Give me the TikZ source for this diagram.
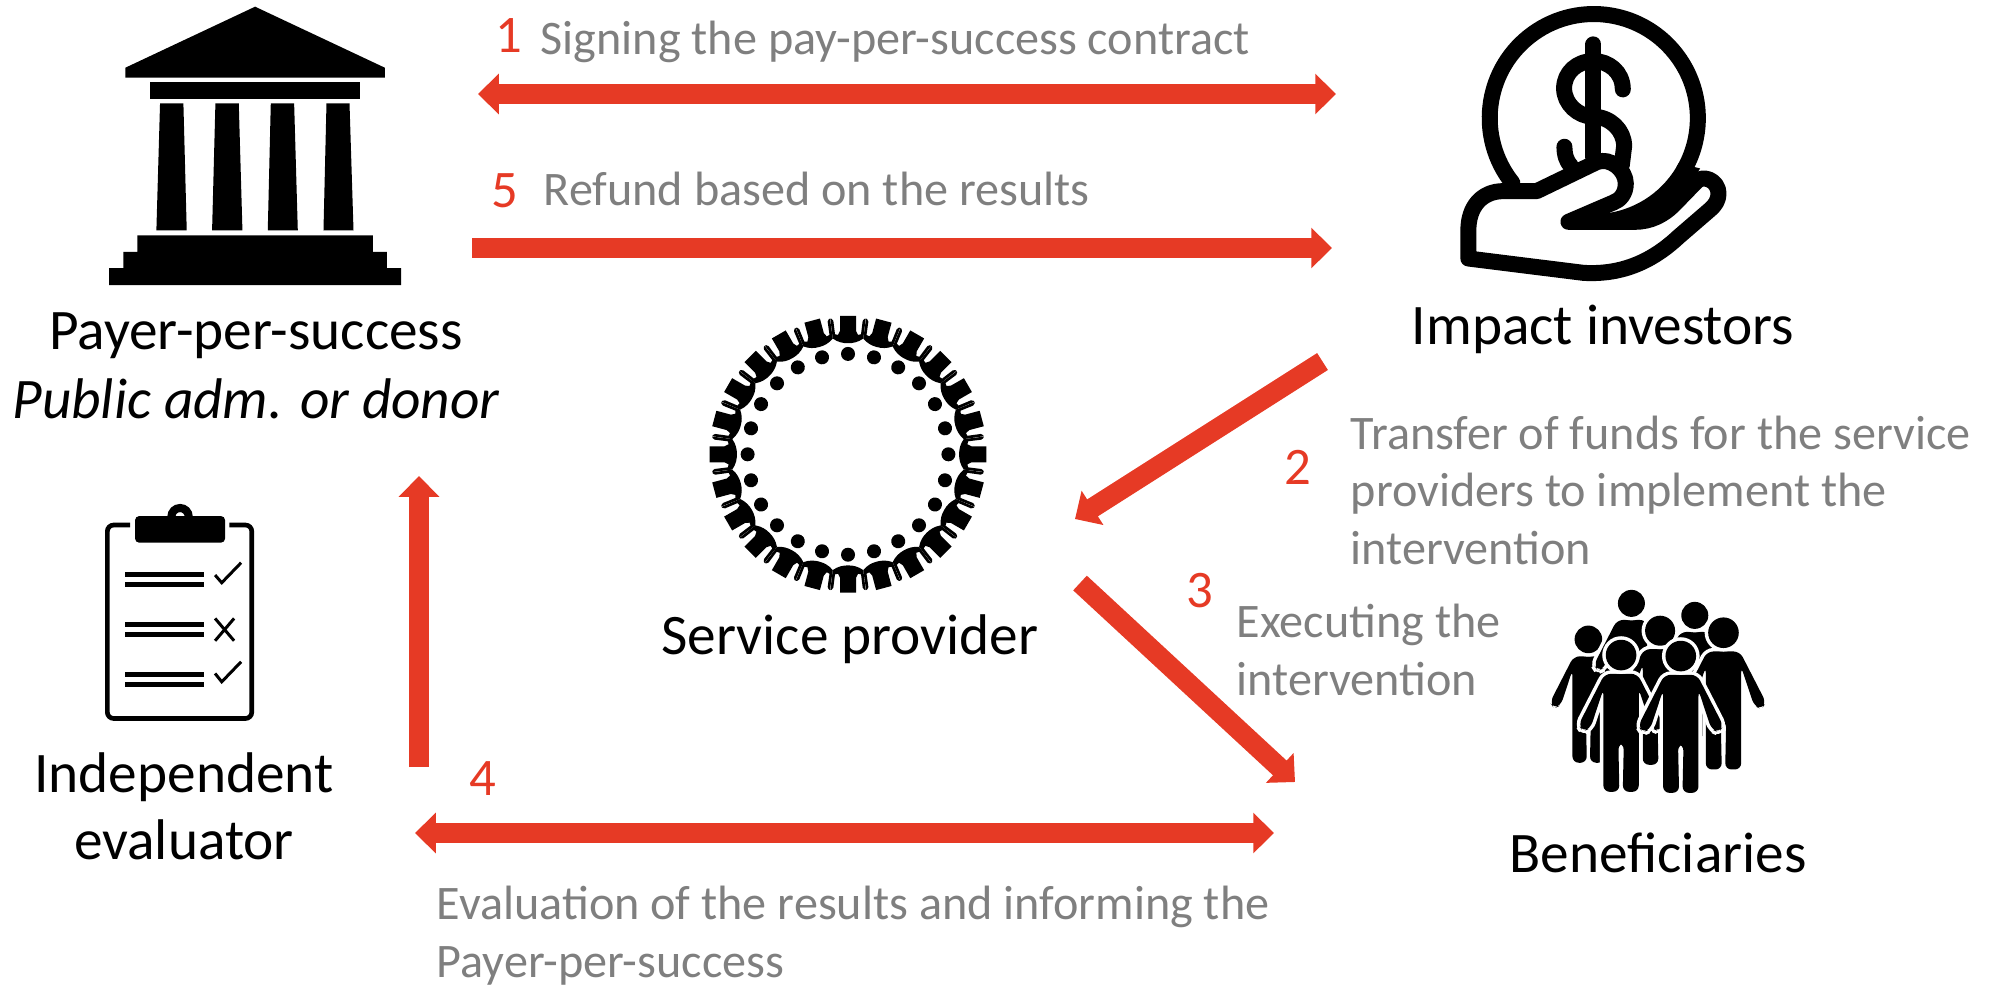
\documentclass[tikz,border=0pt]{standalone}
\usepackage{fontspec}
\setmainfont{Carlito}
\usetikzlibrary{positioning,arrows.meta}
\definecolor{arrowred}{HTML}{E63A25}
\definecolor{notegray}{HTML}{7F7F7F}
\tikzset{
  actor/.style={inner sep=0pt,text=black,font=\fontsize{16.3}{19.05}\selectfont,align=center},
  note/.style={inner sep=0pt,text=notegray,font=\fontsize{13.7}{16.35}\selectfont,align=left,anchor=base west},
  stepno/.style={inner sep=0pt,text=arrowred,font=\fontsize{15}{18}\selectfont,anchor=base west},
  fatline/.style={draw=arrowred,line width=5.7pt},
  oneway/.style={fatline,-{Triangle[length=5.9pt,width=11.2pt]}},
  twoway/.style={fatline,{Triangle[length=5.9pt,width=11.2pt]}-{Triangle[length=5.9pt,width=11.2pt]}},
  icon/.style={x=0.033333mm,y=-0.033333mm},
  handline/.style={draw=black,line width=4.55pt,line cap=round,line join=round},
}
\begin{document}
\begin{tikzpicture}[x=0.01cm,y=-0.01cm]
	\useasboundingbox (0,0) rectangle (1995,984);

	\begin{scope}[shift={(90,0)},icon]
		\fill (495,20) -- (884,203) -- (884,233) -- (106,233) -- (106,203) -- cycle;
		\fill (180,247) rectangle (809,296);
		\foreach \ta/\tb/\ba/\bb in {210/280/199/290,376/446/366/457,542/612/533/623,709/778/700/790}
			\fill (\ta,310) -- (\tb,310) -- (\bb,691) -- (\ba,691) -- cycle;
		\fill (142,706) -- (848,706) -- (848,755) -- (890,755) -- (890,804) -- (933,804) -- (933,855)
			-- (57,855) -- (57,804) -- (100,804) -- (100,755) -- (142,755) -- cycle;
	\end{scope}

	\begin{scope}[shift={(1440,0)},icon]
		\draw[handline] (461,354) +(141.5:312) arc (141.5:390:312);
		\draw[handline] (460,133) -- (460,470);
		\draw[handline] (548,268) .. controls (548,215) and (505,183) .. (460,183)
			.. controls (410,183) and (372,218) .. (372,265)
			.. controls (372,312) and (415,350) .. (460,350)
			.. controls (510,350) and (552,390) .. (552,438) -- (545,495);
		\draw[handline] (373,440) .. controls (373,465) and (380,485) .. (392,497);
		\fill (461,354) +(81.3:288) arc (81.3:28:288) -- (780,505) -- (700,620)
			-- (590,670) -- (450,670) -- cycle;
		\draw[handline] (85,775) -- (85,690) .. controls (85,620) and (125,573) .. (190,573) -- (290,573)
			-- (470,486) .. controls (510,470) and (557,510) .. (557,550)
			.. controls (557,580) and (540,600) .. (520,607) -- (385,665) -- (585,665)
			.. controls (630,665) and (670,645) .. (700,615) -- (765,548)
			.. controls (785,520) and (835,540) .. (835,580) .. controls (835,600) and (825,615) .. (810,628)
			-- (715,710) .. controls (640,780) and (550,825) .. (430,818) -- cycle;
	\end{scope}

	\begin{scope}[shift={(848,454.3)},icon]
		\foreach \ang in {0,15,...,345} {
			\begin{scope}[rotate=\ang]
				\fill (0,-301) circle (21);
				\fill (-24,-415) -- (24,-415) -- (24,-370) -- (30,-358) -- (39,-360) -- (44,-400) -- (49,-406) -- (53,-407)
					-- (45.7,-347) .. controls (30,-336) and (15,-333) .. (0,-333)
					.. controls (-15,-333) and (-30,-336) .. (-45.7,-347)
					-- (-53,-407) -- (-49,-406) -- (-44,-400) -- (-39,-360) -- (-30,-358) -- (-24,-370) -- cycle;
			\end{scope}
		}
	\end{scope}

	\begin{scope}[shift={(90,500)},icon]
		\draw[line width=1.33pt,rounded corners=1.8pt] (120,75) -- (52,75) -- (52,655) -- (485,655) -- (485,75) -- (418,75);
		\draw[line width=2.3pt] (270,50) circle (26);
		\fill[rounded corners=1.2pt] (135,48) rectangle (405,128);
		\foreach \ly in {224,254,373,403,522,552}
			\fill (104,\ly-7.5) rectangle (343,\ly+7.5);
		\draw[line width=0.85pt] (375,225) -- (395,248) -- (453,188);
		\draw[line width=0.85pt] (375,355) -- (432,422) (432,355) -- (375,422);
		\draw[line width=0.85pt] (375,520) -- (395,545) -- (453,485);
	\end{scope}

	\begin{scope}[shift={(1540,580)},icon]
		\foreach \hx/\hy/\hs in {145/178/0.92,274/70/0.9,464/106/0.9,360/152/1,550/158/1.02,243/225/1.02,422/228/1.02} {
			\begin{scope}[shift={(\hx,\hy)},scale=\hs]
				\path[preaction={draw=white,line width=2pt},fill=black,rounded corners=1.8pt] (-48,55) -- (48,55) -- (125,205) -- (112,225) -- (90,215)
					-- (52,100) -- (52,402) -- (5,402) -- (8,259) -- (-8,259) -- (-5,402) -- (-52,402)
					-- (-52,100) -- (-90,215) -- (-112,225) -- (-125,205) -- cycle;
				\path[preaction={draw=white,line width=2pt},fill=black] (0,0) circle (45);
			\end{scope}
		}
	\end{scope}

	\node[actor,anchor=base] (payer) at (256,349) {Payer-per-success};
	\node[actor,anchor=base] (payertype) at (256,418) {\itshape Public adm. or donor};
	\node[actor,anchor=base] (investors) at (1603,344) {Impact investors};
	\node[actor,anchor=base] (provider) at (850,654) {Service provider};
	\node[actor,anchor=base] (evaluator) at (184,859) {Independent\\evaluator};
	\node[actor,anchor=base] (beneficiaries) at (1658,872) {Beneficiaries};

	\node[stepno] (one) at (495,52) {1};
	\node[stepno] (two) at (1284,484) {2};
	\node[stepno] (three) at (1186,607) {3};
	\node[stepno] (four) at (469,795) {4};
	\node[stepno] (five) at (491,207) {5};

	\node[note] (signing) at (540,54) {Signing the pay-per-success contract};
	\node[note] (refund) at (543,205) {Refund based on the results};
	\node[note] (transfer) at (1350,564) {Transfer of funds for the service\\providers to implement the\\intervention};
	\node[note] (executing) at (1236,695) {Executing the\\intervention};
	\node[note] (evaluation) at (436,977) {Evaluation of the results and informing the\\Payer-per-success};

	\coordinate (signw) at (478,94);
	\coordinate (signe) at (1336,94);
	\coordinate (refundw) at (472,248);
	\coordinate (refunde) at (1332,248);
	\coordinate (fundtail) at (1322.5,361.5);
	\coordinate (fundtip) at (1075,519);
	\coordinate (exectail) at (1080,583);
	\coordinate (exectip) at (1295,782);
	\coordinate (evalw) at (415,833);
	\coordinate (evale) at (1274,833);
	\coordinate (reporttail) at (419,767);
	\coordinate (reporttip) at (419,476);

	\draw[twoway] (signw) -- (signe);
	\draw[oneway] (refundw) -- (refunde);
	\draw[oneway] (fundtail) -- (fundtip);
	\draw[oneway] (exectail) -- (exectip);
	\draw[twoway] (evalw) -- (evale);
	\draw[oneway] (reporttail) -- (reporttip);
\end{tikzpicture}
\end{document}
